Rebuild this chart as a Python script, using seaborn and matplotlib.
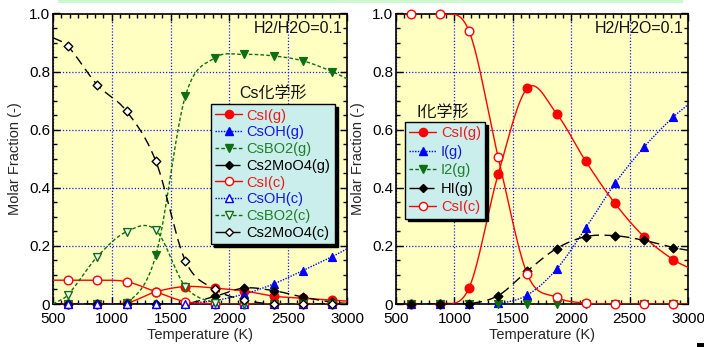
import numpy as np
import pandas as pd
import matplotlib
matplotlib.use("Agg")
import matplotlib.pyplot as plt
import seaborn as sns
from matplotlib.lines import Line2D
from matplotlib.patches import Rectangle
from matplotlib.ticker import MultipleLocator, AutoMinorLocator, FuncFormatter

# ---------------------------------------------------------------- data
temperature = [500, 625, 875, 1125, 1375, 1625, 1875, 2125, 2375, 2625, 2875, 3000]

# Cs species (molar fraction)
csi_g = [0.0, 0.0, 0.0, 0.003, 0.042, 0.060, 0.055, 0.045, 0.027, 0.020, 0.013, 0.010]
csoh_g = [0.0, 0.0, 0.0, 0.0, 0.0, 0.002, 0.012, 0.034, 0.069, 0.115, 0.163, 0.190]
csbo2_g = [0.0, 0.0, 0.0, 0.003, 0.168, 0.715, 0.847, 0.859, 0.854, 0.837, 0.800, 0.775]
cs2moo4_g = [0.0, 0.0, 0.0, 0.0, 0.0, 0.001, 0.026, 0.055, 0.046, 0.024, 0.006, 0.002]
csi_c = [0.082, 0.082, 0.082, 0.077, 0.042, 0.008, 0.001, 0.0, 0.0, 0.0, 0.0, 0.0]
csoh_c = [0.0] * 12
csbo2_c = [0.0, 0.031, 0.162, 0.249, 0.254, 0.060, 0.005, 0.0, 0.0, 0.0, 0.0, 0.0]
cs2moo4_c = [0.917, 0.888, 0.755, 0.664, 0.491, 0.149, 0.051, 0.014, 0.0, 0.0, 0.0, 0.0]

# I species (molar fraction)
i_csi_g = [0.0, 0.0, 0.0, 0.055, 0.447, 0.743, 0.655, 0.491, 0.346, 0.231, 0.152, 0.126]
i_g = [0.0, 0.0, 0.0, 0.0, 0.002, 0.031, 0.120, 0.262, 0.415, 0.541, 0.644, 0.686]
i2_g = [0.0] * 12
hi_g = [0.0, 0.0, 0.0, 0.001, 0.029, 0.114, 0.191, 0.232, 0.235, 0.219, 0.194, 0.185]
i_csi_c = [1.0, 1.0, 1.0, 0.940, 0.505, 0.102, 0.023, 0.003, 0.0, 0.0, 0.0, 0.0]

cs_labels = ["CsI(g)", "CsOH(g)", "CsBO2(g)", "Cs2MoO4(g)",
             "CsI(c)", "CsOH(c)", "CsBO2(c)", "Cs2MoO4(c)"]
i_labels = ["CsI(g)", "I(g)", "I2(g)", "HI(g)", "CsI(c)"]

# ---------------------------------------------------------------- styling
RED, BLUE, GREEN, BLACK = "#ff0000", "#0000ff", "#0d6e12", "#000000"
TXT_RED, TXT_BLUE, TXT_GREEN = "#f01818", "#1515e0", "#1f7f2a"
SOLID, DOTTED = "-", (0, (1, 1))
DASHED, LONGDASH = (0, (2.6, 1.6)), (0, (7, 4))

# (color, linestyle, marker, filled, text color)
cs_style = [
    (RED, SOLID, "o", True, TXT_RED),
    (BLUE, DOTTED, "^", True, TXT_BLUE),
    (GREEN, DASHED, "v", True, TXT_GREEN),
    (BLACK, LONGDASH, "D", True, BLACK),
    (RED, SOLID, "o", False, TXT_RED),
    (BLUE, DOTTED, "^", False, TXT_BLUE),
    (GREEN, DASHED, "v", False, TXT_GREEN),
    (BLACK, LONGDASH, "D", False, BLACK),
]
i_style = [
    (RED, SOLID, "o", True, TXT_RED),
    (BLUE, DOTTED, "^", True, TXT_BLUE),
    (GREEN, DASHED, "v", True, TXT_GREEN),
    (BLACK, LONGDASH, "D", True, BLACK),
    (RED, SOLID, "o", False, TXT_RED),
]
MSIZE = {"o": 6.2, "^": 5.6, "v": 5.6, "D": 4.4}

sns.set_theme(style="ticks")
plt.rcParams["font.family"] = ["Liberation Sans", "Noto Sans CJK JP", "DejaVu Sans"]
plt.rcParams["axes.unicode_minus"] = False


def smooth_curve(x, y, n=30):
    """Piecewise cubic Hermite curve through the points (finite-difference tangents)."""
    x = np.asarray(x, float)
    y = np.asarray(y, float)
    m = np.empty_like(y)
    m[0] = (y[1] - y[0]) / (x[1] - x[0])
    m[-1] = (y[-1] - y[-2]) / (x[-1] - x[-2])
    m[1:-1] = (y[2:] - y[:-2]) / (x[2:] - x[:-2])
    xs, ys = [], []
    for k in range(len(x) - 1):
        h = x[k + 1] - x[k]
        t = np.linspace(0, 1, n, endpoint=False)
        h00 = 2 * t**3 - 3 * t**2 + 1
        h10 = t**3 - 2 * t**2 + t
        h01 = -2 * t**3 + 3 * t**2
        h11 = t**3 - t**2
        xs.append(x[k] + t * h)
        ys.append(h00 * y[k] + h10 * h * m[k] + h01 * y[k + 1] + h11 * h * m[k + 1])
    xs.append([x[-1]])
    ys.append([y[-1]])
    return np.concatenate(xs), np.concatenate(ys)


def draw_panel(ax, series, labels, styles, legend_anchor, legend_spacing,
               legend_title, title_xy):
    ax.set_facecolor("#ffffc2")
    ax.set_xlim(500, 3000)
    ax.set_ylim(0, 1.0)
    ax.xaxis.set_major_locator(MultipleLocator(500))
    ax.xaxis.set_minor_locator(AutoMinorLocator(7))
    ax.yaxis.set_major_locator(MultipleLocator(0.2))
    ax.yaxis.set_minor_locator(AutoMinorLocator(4))
    ax.yaxis.set_major_formatter(FuncFormatter(lambda v, p: "0" if abs(v) < 1e-9 else f"{v:.1f}"))
    ax.grid(True, which="major", color="#1a1aff", linestyle=(0, (1, 1.5)), linewidth=0.9)
    ax.set_axisbelow(True)

    handles = []
    for vals, lab, (col, ls, mk, filled, tcol) in zip(series, labels, styles):
        xs, ys = smooth_curve(temperature, vals)
        curve = pd.DataFrame({"T": xs, "frac": ys})
        sns.lineplot(data=curve, x="T", y="frac", ax=ax, color=col, linestyle=ls,
                     linewidth=1.0, estimator=None, sort=False, zorder=3)
        pts = pd.DataFrame({"T": temperature[1:-1], "frac": vals[1:-1]})
        face = col if filled else "white"
        sns.scatterplot(data=pts, x="T", y="frac", ax=ax, marker=mk, s=MSIZE[mk] ** 2,
                        facecolor=face, edgecolor=col, linewidth=1.0, zorder=4,
                        clip_on=False)
        handles.append(Line2D([0], [0], color=col, linestyle=ls, linewidth=1.0, marker=mk,
                              markersize=MSIZE[mk] * 0.95, markerfacecolor=face,
                              markeredgecolor=col, markeredgewidth=1.0))

    ax.set_xlabel("Temperature (K)", fontsize=10.5, labelpad=1.5)
    ax.set_ylabel("Molar Fraction (-)", fontsize=10.5, labelpad=5)
    ax.tick_params(which="both", direction="in", top=True, right=True, colors="black",
                   labelsize=11, width=1.0)
    ax.tick_params(which="major", length=5)
    ax.tick_params(which="minor", length=3)
    ax.tick_params(axis="x", pad=5.5)
    ax.tick_params(axis="y", pad=2)
    for sp in ax.spines.values():
        sp.set_visible(True)
        sp.set_linewidth(1.2)
        sp.set_color("black")

    ax.text(0.985, 0.95, "H2/H2O=0.1", transform=ax.transAxes, ha="right", va="center",
            fontsize=11.5, color="#111111")

    leg = ax.legend(handles, labels, loc="upper left", bbox_to_anchor=legend_anchor,
                    borderaxespad=0, frameon=True, fancybox=False, facecolor="#c9eeec",
                    edgecolor="black", framealpha=1,
                    shadow={"color": "black", "alpha": 1.0},
                    labelcolor=[s[4] for s in styles], fontsize=10.5,
                    handlelength=1.85, handletextpad=0.3, labelspacing=legend_spacing,
                    borderpad=0.3)
    leg.get_frame().set_linewidth(1.0)
    leg.set_zorder(6)
    ax.text(title_xy[0], title_xy[1], legend_title, transform=ax.transAxes,
            ha="center", va="center", fontsize=11.5, color="#111111", zorder=6)


W, H = 704, 347
fig = plt.figure(figsize=(W / 100, H / 100), dpi=100)
fig.patch.set_facecolor("white")
ax1 = fig.add_axes([53 / W, 1 - 304 / H, 294 / W, 290.5 / H])
ax2 = fig.add_axes([396 / W, 1 - 304 / H, 292 / W, 290.5 / H])

draw_panel(ax1, [csi_g, csoh_g, csbo2_g, cs2moo4_g, csi_c, csoh_c, csbo2_c, cs2moo4_c],
           cs_labels, cs_style, (0.537, 0.688), 0.19, "Cs化学形", (0.75, 0.725))
draw_panel(ax2, [i_csi_g, i_g, i2_g, hi_g, i_csi_c],
           i_labels, i_style, (0.031, 0.627), 0.31, "I化学形", (0.16, 0.66))

# thin band along the top edge and small mark in the lower-right corner
fig.add_artist(Rectangle((58 / W, 1 - 3 / H), 625 / W, 3 / H, transform=fig.transFigure,
                         facecolor="#cdf8cd", edgecolor="none"))
fig.add_artist(Rectangle((697 / W, 0), 7 / W, 4 / H, transform=fig.transFigure,
                         facecolor="black", edgecolor="none"))

fig.savefig("out.png", dpi=100)
